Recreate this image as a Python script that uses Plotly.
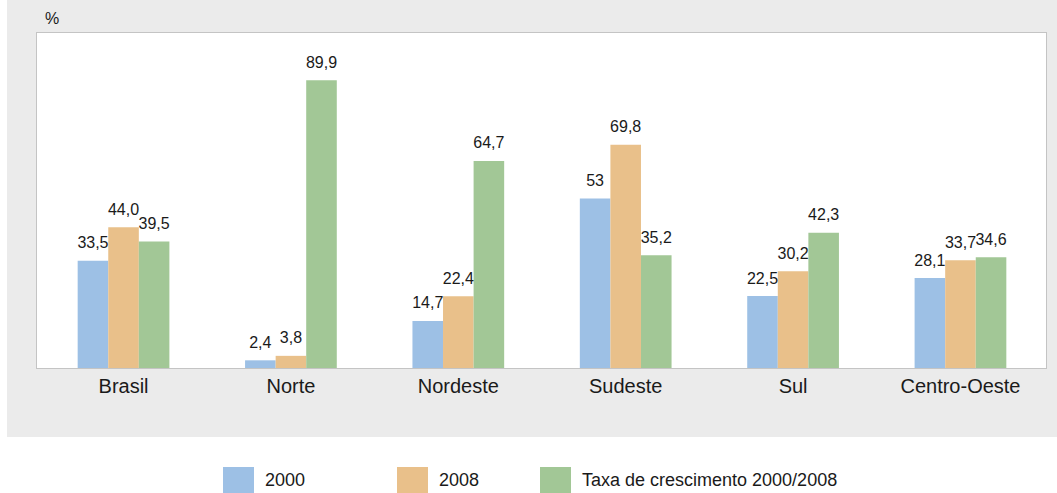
import plotly.graph_objects as go

categories = ["Brasil", "Norte", "Nordeste", "Sudeste", "Sul", "Centro-Oeste"]
series_names = ["2000", "2008", "Taxa de crescimento 2000/2008"]
values_2000 = [33.5, 2.4, 14.7, 53.0, 22.5, 28.1]
values_2008 = [44.0, 3.8, 22.4, 69.8, 30.2, 33.7]
values_taxa = [39.5, 89.9, 64.7, 35.2, 42.3, 34.6]
labels_2000 = ["33,5", "2,4", "14,7", "53", "22,5", "28,1"]
labels_2008 = ["44,0", "3,8", "22,4", "69,8", "30,2", "33,7"]
labels_taxa = ["39,5", "89,9", "64,7", "35,2", "42,3", "34,6"]
colors = ["#9dc0e5", "#e9c08a", "#a2c796"]

W, H = 1057, 493
L, R, T, B = 37, 11, 33, 125
pw, ph = W - L - R, H - T - B

def px_x(p):
    return (p - L) / pw

def px_y(p):
    return (H - B - p) / ph

FONT = "Liberation Sans, Arial, sans-serif"
TXT = "#1a1a1a"
BARGAP = 0.452

fig = go.Figure()
all_vals = [values_2000, values_2008, values_taxa]
all_labels = [labels_2000, labels_2008, labels_taxa]
for i, (name, vals, col) in enumerate(zip(series_names, all_vals, colors)):
    fig.add_trace(go.Bar(
        x=categories, y=vals, name=name, marker=dict(color=col, line=dict(width=0)),
        offsetgroup=str(i), hoverinfo="skip", showlegend=False,
    ))
for i, (vals, labs) in enumerate(zip(all_vals, all_labels)):
    fig.add_trace(go.Scatter(
        x=categories, y=vals, text=labs, mode="markers+text",
        marker=dict(size=12, opacity=0), textposition="top center",
        textfont=dict(size=16, color=TXT, family=FONT),
        offsetgroup=str(i), hoverinfo="skip", showlegend=False,
    ))

shapes = [
    dict(type="rect", xref="paper", yref="paper", x0=px_x(7), x1=px_x(1057),
         y0=px_y(437), y1=px_y(0), fillcolor="#ebebeb", line=dict(width=0), layer="below"),
    dict(type="rect", xref="paper", yref="paper", x0=0, x1=1, y0=0, y1=1,
         fillcolor="white", line=dict(width=0), layer="below"),
]
annotations = [dict(text="%", xref="paper", yref="paper", x=px_x(43), y=px_y(18),
                    xanchor="left", yanchor="middle", showarrow=False,
                    font=dict(size=16, color=TXT, family=FONT))]

legend_sq_x = [223, 397, 540]
for name, col, sx in zip(series_names, colors, legend_sq_x):
    shapes.append(dict(type="rect", xref="paper", yref="paper", x0=px_x(sx), x1=px_x(sx + 31),
                       y0=px_y(493), y1=px_y(467), fillcolor=col, line=dict(width=0)))
    annotations.append(dict(text=name, xref="paper", yref="paper", x=px_x(sx + 40), y=px_y(480),
                            xanchor="left", yanchor="middle", showarrow=False,
                            font=dict(size=18, color=TXT, family=FONT)))

fig.update_layout(
    width=W, height=H, margin=dict(l=L, r=R, t=T, b=B),
    paper_bgcolor="white", plot_bgcolor="white",
    barmode="group", bargap=BARGAP, bargroupgap=0,
    scattermode="group", scattergap=BARGAP,
    shapes=shapes, annotations=annotations,
    xaxis=dict(range=[-0.517, 5.511], showline=True, linecolor="#c4c4c4", linewidth=1, mirror=True,
               tickfont=dict(size=20, color=TXT, family=FONT), ticks="",
               showgrid=False, fixedrange=True),
    yaxis=dict(range=[0, 104.7], showline=True, linecolor="#c4c4c4", linewidth=1, mirror=True,
               showticklabels=False, showgrid=False, zeroline=False, ticks="", fixedrange=True),
    font=dict(family=FONT, color=TXT),
)

fig.write_html("out.html", config={"displayModeBar": False},
               post_script="document.body.style.margin='0';document.body.style.overflow='hidden';")
